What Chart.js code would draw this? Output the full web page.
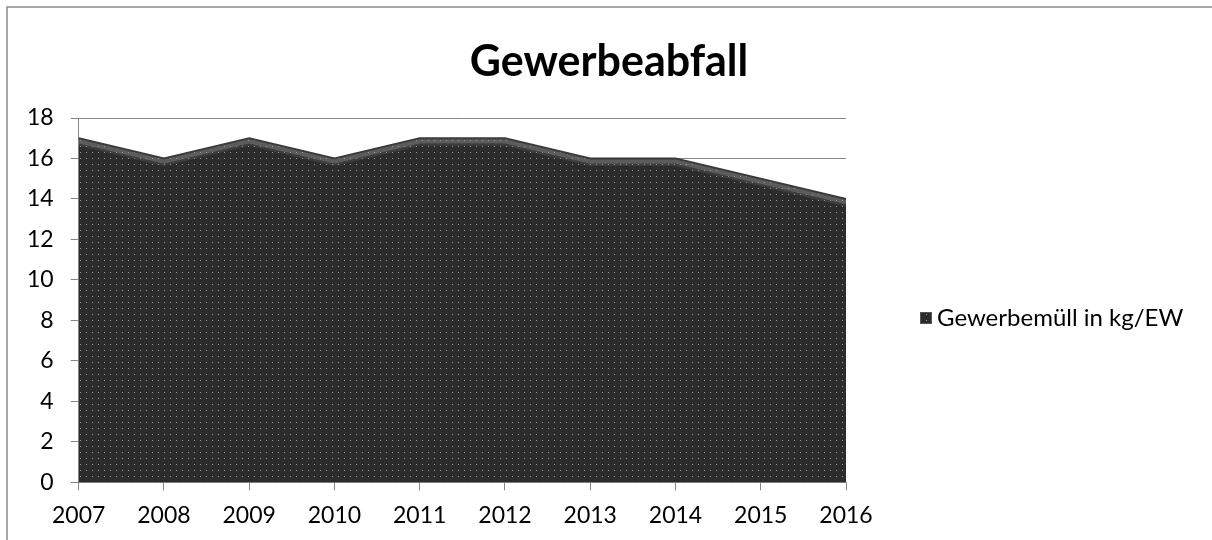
<!DOCTYPE html>
<html>
<head>
<meta charset="utf-8">
<script src="https://cdn.jsdelivr.net/npm/chart.js@4/dist/chart.umd.min.js"></script>
<style>
  html, body { margin: 0; padding: 0; background: #fff; }
  #wrap { width: 1212px; height: 540px; position: relative; }
</style>
</head>
<body>
<div id="wrap"><canvas id="chart" width="1212" height="540"></canvas></div>
<script>
// data
const years = ["2007", "2008", "2009", "2010", "2011", "2012", "2013", "2014", "2015", "2016"];
const gewerbemuell = [17, 16, 17, 16, 17, 17, 16, 16, 15, 14];
const seriesLabel = "Gewerbemüll in kg/EW";
const titleText = "Gewerbeabfall";

// dotted dark fill like the office pattern
function makePattern() {
  const c = document.createElement("canvas");
  c.width = 6; c.height = 6;
  const g = c.getContext("2d");
  g.fillStyle = "#2c2c2c";
  g.fillRect(0, 0, 6, 6);
  g.fillStyle = "#9a9a9a";
  g.fillRect(2, 2, 1, 1);
  return g.createPattern(c, "repeat");
}
const dotted = makePattern();

// outer frame (only top and left are inside the picture)
const framePlugin = {
  id: "frame",
  beforeDraw(chart) {
    const ctx = chart.ctx;
    ctx.save();
    ctx.strokeStyle = "#8a8a8a";
    ctx.lineWidth = 1.5;
    ctx.beginPath();
    ctx.moveTo(7, 545);
    ctx.lineTo(7, 7);
    ctx.lineTo(1220, 7);
    ctx.stroke();
    ctx.restore();
  }
};

// light bevel just under the top edge of the area
const bevelPlugin = {
  id: "bevel",
  afterDatasetsDraw(chart) {
    const pts = chart.getDatasetMeta(0).data;
    const ctx = chart.ctx;
    const area = chart.chartArea;
    ctx.save();
    ctx.beginPath();
    ctx.rect(area.left, area.top, area.right - area.left, area.bottom - area.top);
    ctx.clip();
    ctx.lineJoin = "round";
    [[3, 4, "rgba(150,150,150,0.45)"], [6, 3, "rgba(110,110,110,0.25)"]].forEach(function (s) {
      ctx.beginPath();
      pts.forEach(function (p, i) {
        if (i === 0) ctx.moveTo(p.x, p.y + s[0]);
        else ctx.lineTo(p.x, p.y + s[0]);
      });
      ctx.lineWidth = s[1];
      ctx.strokeStyle = s[2];
      ctx.stroke();
    });
    ctx.restore();
  }
};

// title and legend drawn by hand so the plot keeps its place
const textPlugin = {
  id: "sideText",
  afterDraw(chart) {
    const ctx = chart.ctx;
    ctx.save();
    ctx.fillStyle = "#000";
    ctx.font = "bold 43px Lato";
    ctx.textAlign = "center";
    ctx.textBaseline = "middle";
    ctx.fillText(titleText, 609, 62);

    const y = 318;
    ctx.fillStyle = dotted;
    ctx.fillRect(920, y - 6, 12, 12);
    ctx.strokeStyle = "#555";
    ctx.lineWidth = 1;
    ctx.strokeRect(920.5, y - 5.5, 11, 11);
    ctx.fillStyle = "#000";
    ctx.font = "24px Lato";
    ctx.textAlign = "left";
    ctx.fillText(chart.data.datasets[0].label, 937, y);
    ctx.restore();
  }
};

const ctx = document.getElementById("chart").getContext("2d");
const chart = new Chart(ctx, {
  type: "line",
  data: {
    labels: years,
    datasets: [{
      label: seriesLabel,
      data: gewerbemuell,
      fill: "origin",
      backgroundColor: dotted,
      borderColor: "#3a3a3a",
      borderWidth: 2,
      pointRadius: 0,
      tension: 0
    }]
  },
  options: {
    responsive: false,
    animation: false,
    layout: { padding: { left: 10, right: 366, top: 118, bottom: 0 } },
    plugins: {
      legend: { display: false },
      tooltip: { enabled: false },
      title: { display: false }
    },
    scales: {
      x: {
        offset: false,
        grid: { drawOnChartArea: false, drawTicks: true, tickLength: 8, color: "#868686" },
        border: { color: "#868686", width: 1 },
        ticks: { color: "#000", font: { family: "Lato", size: 23 }, padding: 11, maxRotation: 0 }
      },
      y: {
        min: 0,
        max: 18,
        grid: { color: "#868686", tickLength: 8 },
        border: { color: "#868686", width: 1 },
        ticks: { stepSize: 2, color: "#000", font: { family: "Lato", size: 23 }, padding: 17 }
      }
    }
  },
  plugins: [framePlugin, bevelPlugin, textPlugin]
});
</script>
</body>
</html>
